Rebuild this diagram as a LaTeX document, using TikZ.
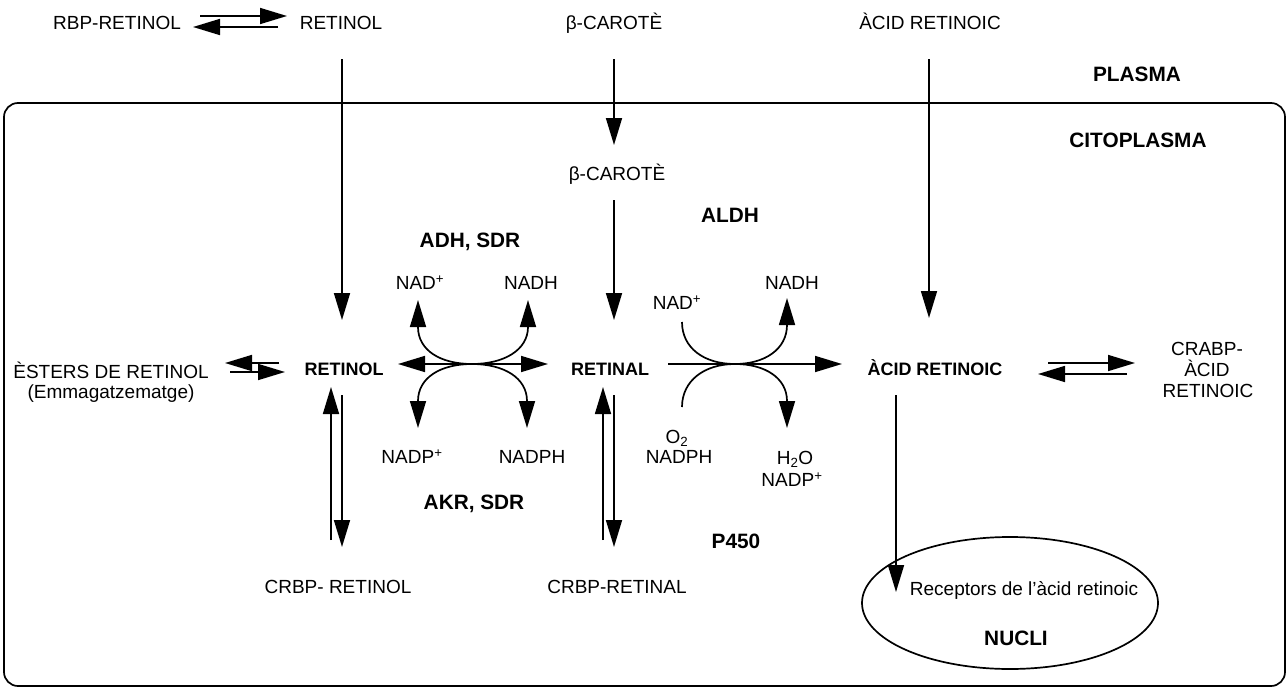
\documentclass[tikz,border=0pt]{standalone}
\usepackage{fontspec}
\setmainfont{Liberation Sans}
\usetikzlibrary{arrows.meta}
\tikzset{
  lbl/.style={font=\fontsize{19}{21}\selectfont, inner sep=0pt, anchor=base},
  cmp/.style={font=\fontsize{18}{21}\selectfont\bfseries, inner sep=0pt, anchor=base},
  enz/.style={font=\fontsize{20.8}{24}\selectfont\bfseries, inner sep=0pt, anchor=base},
  ln/.style={line width=1.7pt},
  arr/.style={ln,->},
  darr/.style={ln,<->}
}
\begin{document}
\begin{tikzpicture}[x=1pt,y=-1pt,>={Triangle[length=27pt,width=16pt]}]
\useasboundingbox (0,0) rectangle (1288,688);
% cell
\draw[ln,rounded corners=14pt] (4,103) rectangle (1285,686);
% nucleus
\draw[ln] (1010,603) ellipse [x radius=148pt, y radius=66pt];

% ---- texts
\node[lbl] (rbp) at (117,29.6) {RBP-RETINOL};
\node[lbl] (retP) at (341,29.6) {RETINOL};
\node[lbl] (carP) at (614,29) {β-CAROTÈ};
\node[lbl] (acP) at (930,29) {ÀCID RETINOIC};
\node[enz] (plasma) at (1137,81.4) {PLASMA};
\node[enz] (cito) at (1138,147.4) {CITOPLASMA};
\node[lbl] (carC) at (617,180.6) {β-CAROTÈ};
\node[enz] (aldh) at (730,222.4) {ALDH};
\node[enz] (adh) at (470,247.4) {ADH, SDR};
\node[lbl] (nad1) at (420,289.6) {NAD\textsuperscript{+}};
\node[lbl] (nadh1) at (531,289.6) {NADH};
\node[lbl] (nad2) at (677,309.6) {NAD\textsuperscript{+}};
\node[lbl] (nadh2) at (792,289.6) {NADH};
\node[lbl] (est1) at (111,378.6) {ÈSTERS DE RETINOL};
\node[lbl] (est2) at (111,398.4) {(Emmagatzematge)};
\node[cmp] (retol) at (344,375.4) {RETINOL};
\node[cmp] (retal) at (610,375.4) {RETINAL};
\node[cmp] (acid) at (935,375.4) {ÀCID RETINOIC};
\node[lbl] (crabp1) at (1207,355.5) {CRABP-};
\node[lbl] (crabp2) at (1207,376.5) {ÀCID};
\node[lbl] (crabp3) at (1208,397.5) {RETINOIC};
\node[lbl] (o2) at (677,443.6) {O\textsubscript{2}};
\node[lbl] (nadph2) at (679,463.6) {NADPH};
\node[lbl] (h2o) at (795,464.6) {H\textsubscript{2}O};
\node[lbl] (nadp2) at (792,486.6) {NADP\textsuperscript{+}};
\node[lbl] (nadp1) at (412,463.6) {NADP\textsuperscript{+}};
\node[lbl] (nadph1) at (532,463.6) {NADPH};
\node[enz] (akr) at (474,509.4) {AKR, SDR};
\node[enz] (p450) at (736,548.4) {P450};
\node[lbl] (crbp1) at (338,593.6) {CRBP- RETINOL};
\node[lbl] (crbp2) at (617,593.6) {CRBP-RETINAL};
\node[lbl] (rec) at (1024,595.6) {Receptors de l’àcid retinoic};
\node[enz] (nucli) at (1016,645.4) {NUCLI};

% ---- coordinates
\coordinate (eqA1) at (200,16);  \coordinate (eqA2) at (287,16);
\coordinate (eqB1) at (278,27);  \coordinate (eqB2) at (193,27);
\coordinate (vR1) at (342,59);   \coordinate (vR2) at (342,320);
\coordinate (vC1) at (614,59);   \coordinate (vC2) at (614,145);
\coordinate (vC3) at (614,200);  \coordinate (vC4) at (614,320);
\coordinate (vA1) at (929,59);   \coordinate (vA2) at (929,318);
\coordinate (esA1) at (279,363); \coordinate (esA2) at (225,363);
\coordinate (esB1) at (230,372); \coordinate (esB2) at (285,372);
\coordinate (cbA1) at (1048,363); \coordinate (cbA2) at (1135,363);
\coordinate (cbB1) at (1127,374); \coordinate (cbB2) at (1038,374);
\coordinate (rlU1) at (331,540); \coordinate (rlU2) at (331,387);
\coordinate (rlD1) at (342,395); \coordinate (rlD2) at (342,547);
\coordinate (raU1) at (603,540); \coordinate (raU2) at (603,387);
\coordinate (raD1) at (614,395); \coordinate (raD2) at (614,547);
\coordinate (nu1) at (896,395);  \coordinate (nu2) at (896,592);
% ADH reaction
\coordinate (x1) at (472,364);
\coordinate (h1L) at (398,364);  \coordinate (h1R) at (548,364);
\coordinate (ul1) at (418,327);  \coordinate (ul1t) at (418,300);
\coordinate (ur1) at (528,327);  \coordinate (ur1t) at (528,300);
\coordinate (ll1) at (418,401);  \coordinate (ll1t) at (418,428);
\coordinate (lr1) at (527,401);  \coordinate (lr1t) at (527,428);
% ALDH reaction
\coordinate (x2) at (735,364);
\coordinate (h2L) at (668,364);  \coordinate (h2R) at (842,364);
\coordinate (ul2) at (682,322);
\coordinate (ur2) at (787,325);  \coordinate (ur2t) at (787,298);
\coordinate (ll2) at (682,407);
\coordinate (lr2) at (787,401);  \coordinate (lr2t) at (787,428);

% ---- connectors
\draw[arr] (eqA1) -- (eqA2);
\draw[arr] (eqB1) -- (eqB2);
\draw[arr] (vR1) -- (vR2);
\draw[arr] (vC1) -- (vC2);
\draw[arr] (vC3) -- (vC4);
\draw[arr] (vA1) -- (vA2);
\draw[arr] (esA1) -- (esA2);
\draw[arr] (esB1) -- (esB2);
\draw[arr] (cbA1) -- (cbA2);
\draw[arr] (cbB1) -- (cbB2);
\draw[arr] (rlU1) -- (rlU2);
\draw[arr] (rlD1) -- (rlD2);
\draw[arr] (raU1) -- (raU2);
\draw[arr] (raD1) -- (raD2);
\draw[arr] (nu1) -- (nu2);

% ADH / AKR
\draw[darr] (h1L) -- (h1R);
\draw[ln] (ul1) .. controls (418,350) and (440,364) .. (x1);
\draw[ln] (x1) .. controls (504,364) and (528,350) .. (ur1);
\draw[ln] (x1) .. controls (440,364) and (418,378) .. (ll1);
\draw[ln] (x1) .. controls (504,364) and (527,378) .. (lr1);
\draw[arr] (ul1) -- (ul1t);
\draw[arr] (ur1) -- (ur1t);
\draw[arr] (ll1) -- (ll1t);
\draw[arr] (lr1) -- (lr1t);

% ALDH / P450
\draw[arr] (h2L) -- (h2R);
\draw[ln] (ul2) .. controls (682,348) and (704,364) .. (x2);
\draw[ln] (x2) .. controls (765,364) and (787,349) .. (ur2);
\draw[ln] (ll2) .. controls (682,381) and (704,364) .. (x2);
\draw[ln] (x2) .. controls (765,364) and (787,378) .. (lr2);
\draw[arr] (ur2) -- (ur2t);
\draw[arr] (lr2) -- (lr2t);
\end{tikzpicture}
\end{document}
